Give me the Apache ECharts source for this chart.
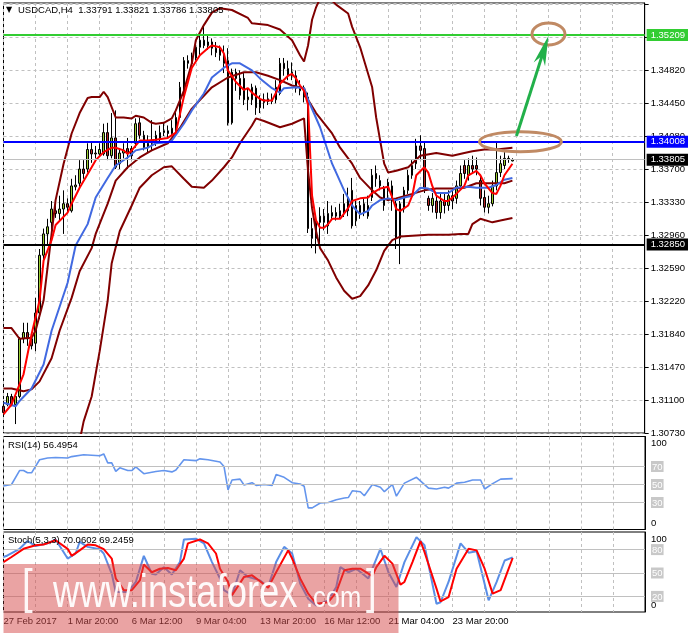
<!DOCTYPE html>
<html><head><meta charset="utf-8">
<script src="https://cdn.jsdelivr.net/npm/echarts@6.0.0/dist/echarts.min.js"></script>
<style>html,body{margin:0;padding:0;background:#fff}#c{width:688px;height:633px}</style>
</head><body><div id="c"></div>
<script>
// ---------------- DATA ----------------
const symbolTitle = 'USDCAD,H4  1.33791 1.33821 1.33786 1.33805';
const rsiTitle = 'RSI(14) 56.4954';
const stochTitle = 'Stoch(5,3,3) 70.0602 69.2459';
const priceTickLabels = ['1.30730','1.31100','1.31470','1.31840','1.32220','1.32590','1.32960','1.33330','1.33700','1.34080','1.34450','1.34820'];
const timeTickLabels = ['27 Feb 2017','1 Mar 20:00','6 Mar 12:00','9 Mar 04:00','13 Mar 20:00','16 Mar 12:00','21 Mar 04:00','23 Mar 20:00'];
const barCount = 161; // visible bar slots (chart extends into empty future space)
// OHLC as [open, close, low, high]
const candles = [
[1.3103,1.3096,1.3094,1.3109],[1.3105,1.3114,1.3103,1.3118],[1.3114,1.3105,1.3103,1.3117],[1.3105,1.3114,1.3083,1.3117],
[1.3114,1.3179,1.3112,1.3181],[1.3179,1.3186,1.3174,1.3197],[1.3186,1.3179,1.3171,1.3197],[1.3179,1.3171,1.3167,1.3183],
[1.3174,1.3208,1.3165,1.3225],[1.3208,1.3273,1.3201,1.3280],[1.3273,1.3297,1.3264,1.3303],[1.3297,1.3305,1.3284,1.3314],
[1.3310,1.3325,1.3298,1.3334],[1.3323,1.3320,1.3315,1.3334],[1.3320,1.3325,1.3312,1.3340],[1.3325,1.3331,1.3297,1.3346],
[1.3331,1.3327,1.3321,1.3337],[1.3323,1.3351,1.3321,1.3359],[1.3350,1.3352,1.3346,1.3363],[1.3354,1.3370,1.3350,1.3380],
[1.3370,1.3365,1.3359,1.3380],[1.3370,1.3392,1.3366,1.3399],[1.3392,1.3387,1.3377,1.3400],[1.3387,1.3388,1.3382,1.3396],
[1.3387,1.3392,1.3384,1.3399],[1.3387,1.3411,1.3385,1.3421],[1.3411,1.3385,1.3380,1.3422],[1.3385,1.3405,1.3382,1.3433],
[1.3405,1.3372,1.3370,1.3436],[1.3376,1.3388,1.3370,1.3393],[1.3388,1.3391,1.3382,1.3399],[1.3393,1.3388,1.3370,1.3405],
[1.3393,1.3385,1.3380,1.3396],[1.3399,1.3421,1.3394,1.3427],[1.3422,1.3408,1.3404,1.3428],[1.3408,1.3394,1.3391,1.3413],
[1.3394,1.3399,1.3388,1.3408],[1.3399,1.3402,1.3391,1.3425],[1.3402,1.3408,1.3396,1.3413],[1.3404,1.3411,1.3400,1.3419],
[1.3411,1.3413,1.3407,1.3422],[1.3413,1.3410,1.3404,1.3419],[1.3410,1.3416,1.3407,1.3425],[1.3413,1.3428,1.3411,1.3434],
[1.3428,1.3462,1.3426,1.3468],[1.3455,1.3492,1.3451,1.3496],[1.3492,1.3489,1.3483,1.3498],[1.3489,1.3495,1.3486,1.3501],
[1.3495,1.3507,1.3492,1.3515],[1.3507,1.3515,1.3498,1.3521],[1.3515,1.3509,1.3506,1.3530],[1.3509,1.3513,1.3504,1.3521],
[1.3513,1.3506,1.3498,1.3517],[1.3506,1.3501,1.3496,1.3513],[1.3504,1.3498,1.3492,1.3509],[1.3498,1.3489,1.3478,1.3509],
[1.3492,1.3422,1.3419,1.3506],[1.3422,1.3479,1.3420,1.3483],[1.3479,1.3472,1.3458,1.3483],[1.3453,1.3472,1.3448,1.3481],
[1.3472,1.3448,1.3442,1.3478],[1.3448,1.3451,1.3436,1.3461],[1.3448,1.3462,1.3442,1.3466],[1.3461,1.3439,1.3431,1.3464],
[1.3439,1.3448,1.3433,1.3453],[1.3448,1.3445,1.3438,1.3455],[1.3449,1.3446,1.3442,1.3456],[1.3446,1.3449,1.3443,1.3455],
[1.3448,1.3462,1.3444,1.3470],[1.3455,1.3489,1.3453,1.3495],[1.3489,1.3483,1.3475,1.3495],[1.3483,1.3475,1.3470,1.3492],
[1.3475,1.3479,1.3470,1.3490],[1.3475,1.3461,1.3456,1.3481],[1.3461,1.3458,1.3453,1.3470],[1.3458,1.3451,1.3445,1.3464],
[1.3451,1.3303,1.3298,1.3456],[1.3303,1.3292,1.3281,1.3315],[1.3292,1.3310,1.3275,1.3317],[1.3310,1.3317,1.3286,1.3327],
[1.3317,1.3310,1.3301,1.3325],[1.3306,1.3320,1.3297,1.3334],[1.3317,1.3321,1.3312,1.3329],[1.3321,1.3317,1.3312,1.3327],
[1.3317,1.3323,1.3314,1.3331],[1.3320,1.3331,1.3316,1.3342],[1.3323,1.3338,1.3317,1.3349],[1.3346,1.3306,1.3303,1.3360],
[1.3312,1.3329,1.3306,1.3334],[1.3329,1.3321,1.3314,1.3334],[1.3321,1.3331,1.3317,1.3337],[1.3317,1.3329,1.3314,1.3340],
[1.3338,1.3363,1.3334,1.3370],[1.3365,1.3359,1.3350,1.3374],[1.3351,1.3357,1.3346,1.3363],[1.3348,1.3329,1.3323,1.3351],
[1.3355,1.3346,1.3334,1.3359],[1.3334,1.3351,1.3323,1.3357],[1.3331,1.3292,1.3280,1.3337],[1.3292,1.3331,1.3263,1.3334],
[1.3325,1.3346,1.3321,1.3350],[1.3346,1.3363,1.3342,1.3369],[1.3363,1.3374,1.3359,1.3380],[1.3376,1.3396,1.3370,1.3404],
[1.3396,1.3391,1.3380,1.3408],[1.3393,1.3349,1.3343,1.3400],[1.3337,1.3329,1.3323,1.3340],[1.3329,1.3337,1.3321,1.3343],
[1.3334,1.3321,1.3314,1.3340],[1.3321,1.3334,1.3314,1.3342],[1.3334,1.3329,1.3320,1.3342],[1.3329,1.3340,1.3323,1.3346],
[1.3340,1.3334,1.3325,1.3348],[1.3337,1.3351,1.3331,1.3357],[1.3351,1.3365,1.3348,1.3374],[1.3374,1.3365,1.3359,1.3380],
[1.3363,1.3374,1.3357,1.3382],[1.3374,1.3370,1.3365,1.3385],[1.3374,1.3370,1.3363,1.3383],[1.3357,1.3337,1.3329,1.3363],
[1.3338,1.3327,1.3321,1.3346],[1.3327,1.3331,1.3320,1.3340],[1.3331,1.3351,1.3328,1.3357],[1.3351,1.3366,1.3346,1.3400],
[1.3366,1.3376,1.3361,1.3385],[1.3374,1.3382,1.3370,1.3389],[1.3381,1.3382,1.3377,1.3385],[1.33791,1.33805,1.33786,1.33821]
];
// indicator lines as [barIndex, value]
const maFast = [[0,1.3094],[2,1.3105],[5,1.3139],[7,1.3184],[9,1.3222],[10,1.3267],[12,1.3290],[13,1.3307],[16,1.3321],[17,1.3331],[19,1.3349],[22,1.3372],[23,1.3380],[25,1.3389],[27,1.3394],[28,1.3394],[30,1.3391],[31,1.3387],[32,1.3391],[34,1.3402],[36,1.3402],[38,1.3403],[41,1.3405],[43,1.3411],[45,1.3451],[47,1.3484],[49,1.3498],[51,1.3506],[52,1.3509],[54,1.3507],[55,1.3500],[56,1.3481],[58,1.3468],[60,1.3459],[61,1.3461],[62,1.3456],[64,1.3449],[65,1.3447],[67,1.3447],[68,1.3456],[69,1.3466],[71,1.3475],[72,1.3477],[73,1.3472],[74,1.3464],[75,1.3458],[76,1.3442],[77,1.3340],[78,1.3312],[79,1.3304],[80,1.3304],[81,1.3308],[82,1.3314],[84,1.3314],[86,1.3326],[87,1.3334],[89,1.3337],[91,1.3338],[92,1.3343],[94,1.3348],[96,1.3350],[97,1.3338],[98,1.3325],[99,1.3323],[101,1.3329],[102,1.3340],[103,1.3363],[105,1.3372],[106,1.3366],[107,1.3351],[108,1.3340],[110,1.3334],[111,1.3334],[113,1.3342],[115,1.3351],[116,1.3363],[118,1.3368],[119,1.3363],[120,1.3354],[122,1.3343],[123,1.3342],[124,1.3351],[125,1.3363],[127,1.3376]];
const maSlow = [[0,1.3107],[3,1.3103],[4,1.3109],[7,1.3123],[10,1.3150],[12,1.3188],[16,1.3242],[18,1.3284],[21,1.3308],[23,1.3338],[26,1.3360],[28,1.3374],[31,1.3383],[33,1.3391],[36,1.3394],[38,1.3399],[41,1.3400],[42,1.3402],[45,1.3421],[47,1.3436],[50,1.3455],[52,1.3473],[55,1.3484],[57,1.3489],[59,1.3489],[62,1.3481],[64,1.3472],[67,1.3461],[69,1.3456],[70,1.3461],[73,1.3462],[75,1.3461],[76,1.3448],[79,1.3417],[82,1.3376],[85,1.3346],[87,1.3329],[89,1.3319],[91,1.3323],[92,1.3329],[94,1.3335],[96,1.3337],[98,1.3335],[100,1.3338],[102,1.3340],[104,1.3349],[106,1.3348],[108,1.3343],[111,1.3343],[113,1.3349],[116,1.3350],[118,1.3349],[121,1.3349],[123,1.3352],[125,1.3358],[127,1.3360]];
const bbUpper = [[0,1.3191],[2,1.3191],[4,1.3179],[7,1.3180],[8,1.3188],[10,1.3222],[12,1.3297],[13,1.3335],[15,1.3376],[17,1.3410],[19,1.3433],[21,1.3450],[22,1.3451],[24,1.3451],[25,1.3457],[26,1.3451],[28,1.3428],[30,1.3428],[32,1.3427],[33,1.3430],[35,1.3428],[37,1.3422],[38,1.3421],[40,1.3422],[42,1.3427],[43,1.3436],[45,1.3458],[47,1.3489],[48,1.3515],[50,1.3532],[52,1.3546],[54,1.3551],[57,1.3549],[61,1.3540],[62,1.3534],[66,1.3532],[69,1.3527],[72,1.3515],[74,1.3498],[75,1.3491],[76,1.3509],[77,1.3538],[78,1.3552],[79,1.3562],[81,1.3564],[83,1.3555],[86,1.3545],[87,1.3530],[89,1.3507],[92,1.3462],[93,1.3428],[94,1.3402],[95,1.3376],[96,1.3366],[98,1.3368],[101,1.3372],[104,1.3385],[108,1.3388],[112,1.3385],[115,1.3388],[117,1.3390],[120,1.3392],[123,1.3392],[127,1.3394]];
const bbMiddle = [[0,1.3123],[2,1.3123],[5,1.3120],[7,1.3122],[9,1.3131],[12,1.3157],[14,1.3188],[17,1.3225],[19,1.3255],[22,1.3281],[23,1.3297],[26,1.3331],[28,1.3357],[31,1.3372],[34,1.3383],[37,1.3391],[41,1.3399],[44,1.3416],[47,1.3438],[52,1.3462],[56,1.3473],[60,1.3479],[63,1.3479],[66,1.3475],[69,1.3470],[72,1.3464],[75,1.3461],[76,1.3448],[78,1.3433],[82,1.3410],[84,1.3394],[87,1.3376],[89,1.3360],[92,1.3346],[94,1.3338],[96,1.3335],[98,1.3337],[102,1.3342],[105,1.3346],[108,1.3348],[112,1.3348],[115,1.3349],[118,1.3354],[122,1.3354],[125,1.3354],[127,1.3357]];
const bbLower = [[0,1.3056],[2,1.3053],[5,1.3047],[9,1.3025],[14,1.3014],[17,1.3036],[19,1.3064],[20,1.3086],[22,1.3114],[24,1.3165],[26,1.3222],[27,1.3264],[29,1.3300],[32,1.3329],[34,1.3349],[37,1.3363],[40,1.3372],[42,1.3373],[45,1.3359],[47,1.3350],[50,1.3349],[52,1.3357],[55,1.3372],[57,1.3383],[59,1.3399],[62,1.3419],[63,1.3427],[65,1.3424],[69,1.3417],[72,1.3421],[75,1.3427],[76,1.3368],[77,1.3326],[78,1.3300],[79,1.3281],[81,1.3267],[83,1.3248],[85,1.3233],[87,1.3224],[89,1.3227],[91,1.3239],[93,1.3256],[95,1.3278],[97,1.3290],[99,1.3294],[102,1.3295],[106,1.3296],[111,1.3296],[114,1.3297],[116,1.3297],[117,1.3308],[119,1.3314],[122,1.3310],[124,1.3312],[127,1.3315]];
const rsi = [[0,48.5],[2,50],[4,65.5],[5,65.5],[6,63],[7,63],[9,77.5],[11,79.5],[13,80],[16,79.5],[17,81],[20,83],[24,82],[25,84],[26,74],[27,74],[28,64.5],[29,68.5],[31,65.5],[32,65.5],[33,69.5],[35,62],[38,64.5],[40,65.5],[42,64],[43,66],[45,77.5],[48,76.5],[49,78.5],[51,77.5],[54,75],[55,70],[56,44],[57,55],[59,56],[60,49.5],[62,52],[63,49],[65,50],[67,49],[68,61],[70,58],[72,52],[74,50.5],[75,48],[76,24],[77,24],[79,29.5],[81,30],[83,33],[85,35],[86,35.5],[87,43],[89,42],[90,37.5],[92,50],[94,47],[95,42],[97,50],[98,37],[100,51.5],[103,58],[106,46],[108,45],[110,47],[111,46],[113,51.5],[115,52.5],[117,55],[119,55],[120,45],[122,51],[124,56],[127,56.4954]];
const stochMain = [[0,70.5],[1,72.5],[4,81],[6,91],[8,84.5],[11,88],[13,93],[16,68.5],[18,75],[19,90],[21,83.5],[24,80.5],[25,75],[27,49],[28,25.5],[31,25.5],[33,38.5],[35,72],[37,49],[38,48],[40,57.5],[42,48],[44,64],[45,93],[48,94],[50,88],[52,64],[54,43],[55,28],[57,21.5],[59,53.5],[61,45],[64,40.5],[66,32],[68,64],[70,83.5],[72,75],[74,36.5],[76,17],[78,8.5],[81,15],[83,32],[84,57.5],[86,51],[88,55.5],[91,43],[92,55.5],[94,81],[96,51],[98,32],[100,64],[103,96],[105,85.5],[108,10.5],[109,12.5],[111,38.5],[114,88],[116,76],[118,78],[121,15],[123,38.5],[125,66],[127,70.0602]];
const stochSignal = [[0,64],[2,70.5],[5,81],[8,85.5],[10,86.5],[13,92],[16,81],[17,72],[19,79],[21,86.5],[23,85.5],[25,80.5],[27,68.5],[28,43],[30,28],[32,28],[34,40.5],[35,61],[37,51],[39,55.5],[41,56.5],[43,53.5],[45,68.5],[46,88],[49,93],[51,88],[53,75],[54,55.5],[56,38.5],[57,21.5],[60,45],[62,47],[64,39.5],[66,31],[68,51],[71,79],[72,68.5],[74,43],[76,23.5],[78,10.5],[81,12.5],[83,25.5],[85,53.5],[87,55.5],[89,55.5],[92,46],[93,57.5],[95,72],[97,62],[99,35],[100,38.5],[102,64],[104,91],[105,77],[108,30],[109,13.5],[111,19],[113,55.5],[116,81],[118,79],[120,55.5],[122,23.5],[124,28],[126,55.5],[127,69.2459]];
const priceLevels = [
  {value:1.35209, color:'#32cd32', width:2},
  {value:1.34008, color:'#0000ff', width:2},
  {value:1.33805, color:'#c0c0c0', width:1, tag:'#000000'},
  {value:1.32850, color:'#000000', width:2}
];
const rsiLevels = [70,50,30];
const stochLevels = [80,50,20];
// hand-drawn annotations anchored in data space [bar, price]
const ellipseNotes = [{bar:129, price:1.34008, rx:41, ry:10},{bar:136, price:1.35220, rx:16.5, ry:11}];
const arrowNote = {from:[128, 1.34072], to:[136, 1.35200]};

// ---------------- CHART ----------------
const FONT = '"Liberation Sans", Arial, sans-serif';
const cats = Array.from({length: barCount}, (_, i) => String(i));
const priceInterval = 0.0037139;
const priceMin = priceInterval * 352 - 1e-9;
const priceMax = priceMin + 0.048393;

const gridDash = {color:'#c0c0c0', type:[3,3], width:1};
function xAxisFor(g, showLabels){
  return {type:'category', gridIndex:g, data:cats, boundaryGap:false,
    axisLine:{show:false}, axisTick:{show:false},
    axisLabel: showLabels ? {show:true, interval:15, align:'left', margin:4, fontSize:9.5, color:'#000', fontFamily:FONT,
      formatter:(v, idx) => (idx % 16 === 0 && timeTickLabels[idx/16]) ? timeTickLabels[idx/16] : ''} : {show:false},
    splitLine:{show:true, interval:7, lineStyle:gridDash}};
}
const lineBase = {type:'line', symbol:'none', connectNulls:true, silent:true, animation:false};

const chart = echarts.init(document.getElementById('c'), null, {renderer:'canvas'});
const levelMarks = {silent:true, symbol:['none','none'], animation:false, precision:5,
  data: priceLevels.map(l => ({yAxis:l.value, lineStyle:{color:l.color, width:l.width, type:'solid'},
    label:{show:true, position:'end', distance:2, formatter: () => l.value.toFixed(5), color:'#fff', fontSize:9.5, fontFamily:FONT,
      backgroundColor: l.tag || l.color, padding:[1,4,0,4], lineHeight:11}}))};
const option = {
  animation:false,
  backgroundColor:'#ffffff',
  textStyle:{fontFamily:FONT},
  title:[
    {text:'▼', left:6, top:6, padding:0, textStyle:{fontSize:8, color:'#000', fontWeight:'normal', fontFamily:'"DejaVu Sans"'}},
    {text:symbolTitle, left:18, top:5, padding:0, textStyle:{fontSize:9.5, color:'#000', fontWeight:'normal', fontFamily:FONT}},
    {text:rsiTitle, left:8, top:440, padding:0, textStyle:{fontSize:9.5, color:'#000', fontWeight:'normal', fontFamily:FONT}},
    {text:stochTitle, left:8, top:535, padding:0, textStyle:{fontSize:9.5, color:'#000', fontWeight:'normal', fontFamily:FONT}}
  ],
  grid:[
    {left:3.5, width:641.5, top:3, height:430, show:true, borderColor:'#000', borderWidth:1, backgroundColor:'transparent'},
    {left:3.5, width:641.5, top:436.5, height:93, show:true, borderColor:'#000', borderWidth:1, backgroundColor:'transparent'},
    {left:3.5, width:641.5, top:532, height:80, show:true, borderColor:'#000', borderWidth:1, backgroundColor:'transparent'}
  ],
  xAxis:[xAxisFor(0,false), xAxisFor(1,false), xAxisFor(2,true)],
  yAxis:[
    {type:'value', gridIndex:0, position:'right', min:priceMin, max:priceMax, interval:priceInterval,
      axisLine:{show:true, lineStyle:{color:'#000'}}, axisTick:{show:true, length:4, lineStyle:{color:'#000'}},
      axisLabel:{margin:6, fontSize:9.5, color:'#000', fontFamily:FONT, showMaxLabel:false,
        formatter:(v) => { const k = Math.round((v - priceMin)/priceInterval); return (Math.abs(v - priceMin - k*priceInterval) < 1e-6 && priceTickLabels[k]) ? priceTickLabels[k] : ''; }},
      splitLine:{show:true, lineStyle:gridDash}},
    {type:'value', gridIndex:1, position:'right', min:0, max:93/0.9, interval:10,
      axisLine:{show:true, lineStyle:{color:'#000'}}, axisTick:{show:false},
      axisLabel:{margin:6, fontSize:9.5, color:'#000', fontFamily:FONT,
        formatter:(v) => ({100:'{t|100}', 70:'{l|70}', 50:'{l|50}', 30:'{l|30}', 0:'{b|0}'})[v] || '',
        rich:{t:{padding:[8,0,0,0], fontSize:9.5}, b:{padding:[0,0,13,0], fontSize:9.5}, l:{backgroundColor:'#c8c8c8', color:'#ffffff', padding:[1,1,0,1], fontSize:9.5}}},
      splitLine:{show:false}},
    {type:'value', gridIndex:2, position:'right', min:0, max:80/0.78, interval:10,
      axisLine:{show:true, lineStyle:{color:'#000'}}, axisTick:{show:false},
      axisLabel:{margin:6, fontSize:9.5, color:'#000', fontFamily:FONT,
        formatter:(v) => ({100:'{t|100}', 80:'{l|80}', 50:'{l|50}', 20:'{l|20}', 0:'{b|0}'})[v] || '',
        rich:{t:{padding:[10,0,0,0], fontSize:9.5}, b:{padding:[0,0,14,0], fontSize:9.5}, l:{backgroundColor:'#c8c8c8', color:'#ffffff', padding:[1,1,0,1], fontSize:9.5}}},
      splitLine:{show:false}}
  ],
  series:[
    {type:'candlestick', xAxisIndex:0, yAxisIndex:0, data:candles, barWidth:2, clip:false, silent:true, z:2,
      itemStyle:{color:'#9acd32', color0:'#b22222', borderColor:'#000', borderColor0:'#000', borderWidth:1}},
    Object.assign({}, lineBase, {name:'bbU', xAxisIndex:0, yAxisIndex:0, data:bbUpper, z:3, lineStyle:{color:'#800000', width:2}}),
    Object.assign({}, lineBase, {name:'bbM', xAxisIndex:0, yAxisIndex:0, data:bbMiddle, z:3, lineStyle:{color:'#800000', width:2}}),
    Object.assign({}, lineBase, {name:'bbL', xAxisIndex:0, yAxisIndex:0, data:bbLower, z:3, lineStyle:{color:'#800000', width:2}}),
    Object.assign({}, lineBase, {name:'maSlow', xAxisIndex:0, yAxisIndex:0, data:maSlow, z:4, lineStyle:{color:'#4169e1', width:2}}),
    Object.assign({}, lineBase, {name:'maFast', xAxisIndex:0, yAxisIndex:0, data:maFast, z:4, lineStyle:{color:'#ff0000', width:2}, markLine: levelMarks}),
    Object.assign({}, lineBase, {name:'rsi', xAxisIndex:1, yAxisIndex:1, data:rsi, z:4, lineStyle:{color:'#6495ed', width:1.6},
      markLine:{silent:true, symbol:['none','none'], animation:false, label:{show:false},
        lineStyle:{color:'#c0c0c0', width:1, type:'solid'}, data: rsiLevels.map(v => ({yAxis:v}))}}),
    Object.assign({}, lineBase, {name:'stochMain', xAxisIndex:2, yAxisIndex:2, data:stochMain, z:4, lineStyle:{color:'#5a8ee6', width:2},
      markLine:{silent:true, symbol:['none','none'], animation:false, label:{show:false},
        lineStyle:{color:'#c0c0c0', width:1, type:'solid'}, data: stochLevels.map(v => ({yAxis:v}))}}),
    Object.assign({}, lineBase, {name:'stochSignal', xAxisIndex:2, yAxisIndex:2, data:stochSignal, z:5, lineStyle:{color:'#ff0000', width:2}})
  ]
};
chart.setOption(option);

// annotations (positions derived from data coordinates)
const toPx = (bar, price) => chart.convertToPixel({xAxisIndex:0, yAxisIndex:0}, [bar, price]);
const graphics = [];
ellipseNotes.forEach(e => {
  const p = toPx(e.bar, e.price);
  graphics.push({type:'ellipse', shape:{cx:p[0], cy:p[1], rx:e.rx, ry:e.ry}, style:{fill:'none', stroke:'#c08a64', lineWidth:3}, z:50, silent:true});
});
(function(){
  const a = toPx(arrowNote.from[0], arrowNote.from[1]);
  const b = toPx(arrowNote.to[0], arrowNote.to[1]);
  const dx = b[0]-a[0], dy = b[1]-a[1], len = Math.hypot(dx, dy);
  const ux = dx/len, uy = dy/len, nx = -uy, ny = ux;
  const L = 30, W = 6;
  const bx = b[0]-ux*L, by = b[1]-uy*L;
  graphics.push({type:'line', shape:{x1:a[0], y1:a[1], x2:b[0]-ux*8, y2:b[1]-uy*8}, style:{stroke:'#22b04a', lineWidth:3}, z:51, silent:true});
  graphics.push({type:'polygon', shape:{points:[[b[0],b[1]],[bx+nx*W,by+ny*W],[b[0]-ux*L*0.7,b[1]-uy*L*0.7],[bx-nx*W,by-ny*W]]}, style:{fill:'#22b04a'}, z:51, silent:true});
})();
// watermark
graphics.push({type:'rect', shape:{x:3.5, y:564, width:395, height:69}, style:{fill:'rgba(214,72,72,0.5)'}, z:100, silent:true});
graphics.push({type:'text', x:22, y:566, scaleX:0.8, style:{text:'[', font:'48px "Liberation Sans"', fill:'rgba(255,255,255,0.92)'}, z:101, silent:true});
graphics.push({type:'text', x:53, y:571, scaleX:0.79, style:{text:'www.instaforex', font:'46px "Liberation Sans"', fill:'rgba(255,255,255,0.95)'}, z:101, silent:true});
graphics.push({type:'text', x:306, y:584, scaleX:0.85, style:{text:'.com', font:'30px "Liberation Sans"', fill:'rgba(255,255,255,0.95)'}, z:101, silent:true});
graphics.push({type:'text', x:366, y:566, scaleX:0.8, style:{text:']', font:'48px "Liberation Sans"', fill:'rgba(255,255,255,0.92)'}, z:101, silent:true});
chart.setOption({graphic: graphics});
</script></body></html>
